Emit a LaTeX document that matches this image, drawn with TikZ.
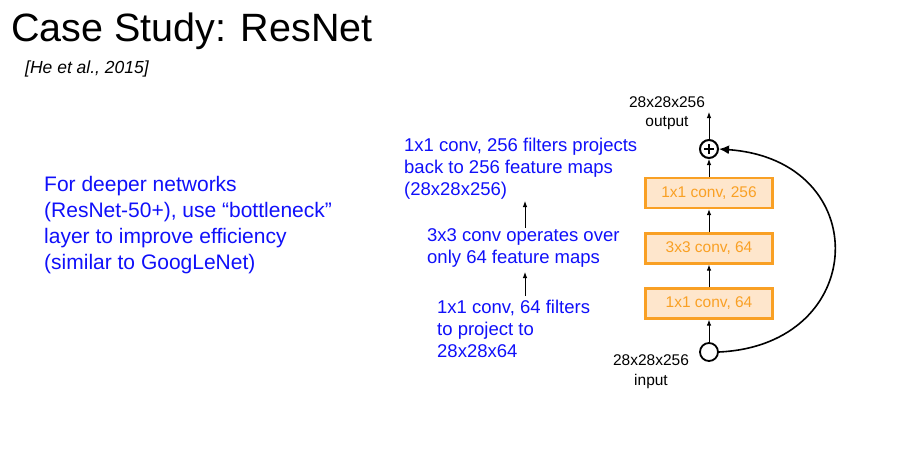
\documentclass[tikz,border=0pt]{standalone}
\usepackage{fontspec}
\setmainfont{Liberation Sans}
\usetikzlibrary{arrows.meta}
\definecolor{txtblue}{HTML}{1010FA}
\definecolor{boxfill}{HTML}{FEE6CC}
\definecolor{boxline}{HTML}{F9A024}
\begin{document}
\begin{tikzpicture}[x=1pt,y=-1pt,
  convbox/.style={draw=boxline,fill=boxfill,line width=2.2pt,minimum width=127pt,minimum height=30pt,inner sep=0pt,text=boxline,font=\fontsize{15.5}{18}\selectfont},
  note/.style={text=txtblue,align=left,inner sep=0pt,font=\fontsize{18.5}{22}\selectfont},
  small/.style={inner sep=0pt,align=center,font=\fontsize{15.5}{19.5}\selectfont},
  arr/.style={-{Latex[length=6pt,width=4.5pt]},line width=0.9pt},
]
\useasboundingbox[fill=white] (0,0) rectangle (903,452);
% title
\node[anchor=base west,inner sep=0pt,font=\fontsize{39.5}{44}\selectfont] (title) at (11,42) {Case Study: ResNet};
\node[anchor=base west,inner sep=0pt,font=\fontsize{17.5}{20}\selectfont\itshape] (cite) at (25,74) {[He et al., 2015]};
% left note
\node[note,anchor=west,font=\fontsize{21}{26}\selectfont] (left) at (44,225) {For deeper networks\\(ResNet-50+), use “bottleneck”\\layer to improve efficiency\\(similar to GoogLeNet)};
% middle notes
\node[note,anchor=west] (n1) at (404,169) {1x1 conv, 256 filters projects\\back to 256 feature maps\\(28x28x256)};
\node[note,anchor=west] (n2) at (427,247.5) {3x3 conv operates over\\only 64 feature maps};
\node[note,anchor=west] (n3) at (437,329) {1x1 conv, 64 filters\\to project to\\28x28x64};
\draw[arr] (n2.north -| 525,222) -- (525,201);
\draw[arr] (525,296) -- (525,272);
% boxes
\node[convbox] (b1) at (709,193) {1x1 conv, 256};
\node[convbox] (b2) at (709,248.5) {3x3 conv, 64};
\node[convbox] (b3) at (709,303.5) {1x1 conv, 64};
\node[circle,draw,line width=1.8pt,minimum size=18pt,inner sep=0pt] (in) at (709,352) {};
\node[circle,draw,line width=2pt,minimum size=18pt,inner sep=0pt] (plus) at (709,149) {};
\draw[line width=2.6pt] (plus.center) ++(-5,0) -- ++(10,0);
\draw[line width=2.6pt] (plus.center) ++(0,-5) -- ++(0,10);
\coordinate (out) at (709,112);
\draw[arr] (in) -- (b3);
\draw[arr] (b3) -- (b2);
\draw[arr] (b2) -- (b1);
\draw[arr] (b1) -- (plus);
\draw[arr] (plus) -- (out);
\draw[-{Latex[length=10pt,width=9pt]},line width=1.6pt] (in.east) .. controls (870,345) and (875,160) .. (plus.east);
% labels
\node[small] (outlbl) at (667,113) {28x28x256\\output};
\node[small] (inlbl) at (651,371.5) {28x28x256\\input};
\end{tikzpicture}
\end{document}
